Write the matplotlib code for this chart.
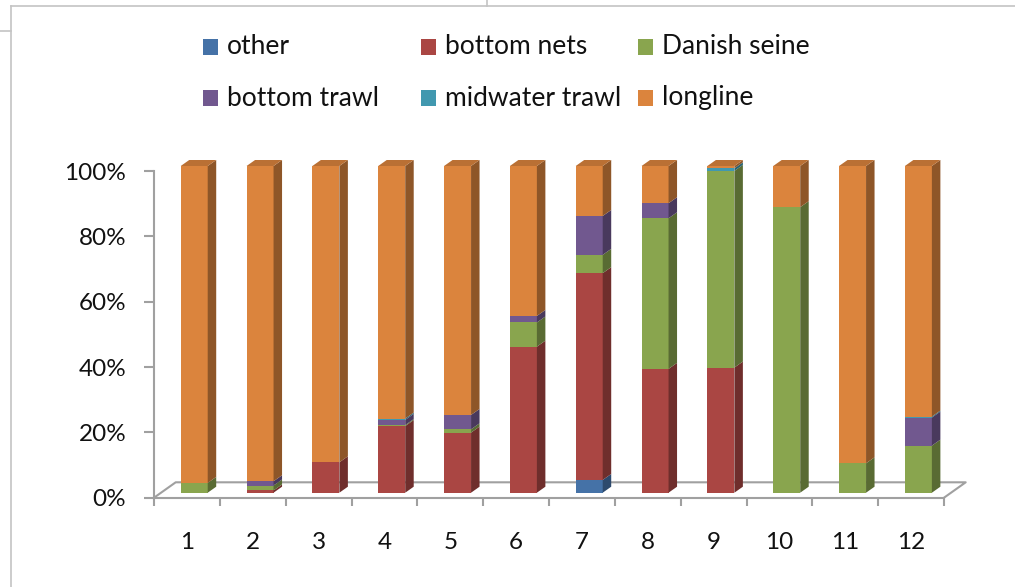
import numpy as np
import matplotlib
matplotlib.use("Agg")
import matplotlib.pyplot as plt
from matplotlib import transforms
from matplotlib.patches import Polygon, Rectangle
from matplotlib.lines import Line2D
from matplotlib.colors import to_rgb

# ---- data (share of landings by gear, %) ----
categories = ["1", "2", "3", "4", "5", "6", "7", "8", "9", "10", "11", "12"]
series_names = ["other", "bottom nets", "Danish seine",
                "bottom trawl", "midwater trawl", "longline"]
other = [0, 0, 0, 0, 0, 0, 3.9, 0, 0, 0, 0, 0]
bottom_nets = [0, 0.7, 9.3, 20.4, 18.4, 44.7, 63.3, 37.9, 38.3, 0, 0, 0]
danish_seine = [3.0, 1.5, 0, 0.3, 1.0, 7.4, 5.6, 46.1, 60.2, 87.4, 9.0, 14.4]
bottom_trawl = [0, 1.3, 0, 1.6, 4.4, 2.0, 11.9, 4.6, 0, 0, 0, 8.6]
midwater_trawl = [0, 0, 0, 0.4, 0, 0, 0, 0, 0.8, 0, 0, 0.3]
longline = [97.0, 96.5, 90.7, 77.3, 76.2, 45.9, 15.3, 11.4, 0.7, 12.6, 91.0, 76.7]
y_ticks = [0, 0.2, 0.4, 0.6, 0.8, 1.0]
y_tick_labels = ["0%", "20%", "40%", "60%", "80%", "100%"]

colors = ["#4572A7", "#AA4643", "#89A54E", "#71588F", "#4198AF", "#DB843D"]

W, H, DPI = 1015, 587, 100
FONT = "Lato"
GRID = "#A0A0A0"
TEXT = "#111111"


def shade(c, f):
    r, g, b = to_rgb(c)
    return (r * f, g * f, b * f)


def px(x, y):
    """figure fraction from pixel position measured from the top-left."""
    return x / W, (H - y) / H


fig = plt.figure(figsize=(W / DPI, H / DPI), dpi=DPI)
fig.patch.set_facecolor("white")

# plot area: front edge of the floor and the value axis
x0, x1 = 154, 944
y0, y1 = 497.7, 171
ax = fig.add_axes([x0 / W, (H - y0) / H, (x1 - x0) / W, (y0 - y1) / H])
ax.set_xlim(0.5, len(categories) + 0.5)
ax.set_ylim(0, 1)
ax.patch.set_visible(False)
for s in ("top", "right"):
    ax.spines[s].set_visible(False)
for s in ("left", "bottom"):
    ax.spines[s].set_color(GRID)
    ax.spines[s].set_linewidth(1.5)
    ax.spines[s].set_zorder(1)

xpos = np.arange(1, len(categories) + 1)
ax.set_xticks(xpos, categories)
ax.set_xticks(np.arange(0.5, len(categories) + 1), minor=True)
ax.tick_params(axis="x", which="major", length=0, pad=25,
               labelsize=17.5, labelcolor=TEXT)
ax.tick_params(axis="x", which="minor", length=6, width=1.5, color=GRID,
               direction="out")
ax.set_yticks(y_ticks, y_tick_labels)
ax.tick_params(axis="y", length=7, width=1.5, color=GRID, pad=13,
               labelsize=17.5, labelcolor=TEXT)
for lab in ax.get_xticklabels() + ax.get_yticklabels():
    lab.set_fontfamily(FONT)

# floor depth (pixels) and bar depth (pixels)
floor_dx, floor_dy = 21.7, 15.4
bar_dx, bar_dy = 8.5, 6.0
bar_shift_x, bar_shift_y = 7.3, 5.0
bar_w = 0.41

disp = transforms.IdentityTransform()
to_disp = ax.transData.transform

# floor outline (back edge and the two side edges)
fl = to_disp([[0.5, 0], [len(categories) + 0.5, 0]])
floor_pts = [fl[0], fl[0] + [floor_dx, floor_dy],
             fl[1] + [floor_dx, floor_dy], fl[1]]
floor_pts = np.array(floor_pts)
ax.add_line(Line2D(floor_pts[:, 0], floor_pts[:, 1], transform=disp,
                   color=GRID, lw=1.5, zorder=1, clip_on=False))

# 100% stacked columns
data = np.array([other, bottom_nets, danish_seine,
                 bottom_trawl, midwater_trawl, longline], dtype=float)
shares = data / data.sum(axis=0)

bar_tr = transforms.offset_copy(ax.transData, fig=fig, x=bar_shift_x,
                                y=bar_shift_y, units="dots")
bottoms = np.zeros(len(categories))
for k, (name, col) in enumerate(zip(series_names, colors)):
    vals = shares[k]
    ax.bar(xpos, vals, width=bar_w, bottom=bottoms, color=col,
           transform=bar_tr, clip_on=False, zorder=3, linewidth=0)
    for i in range(len(categories)):
        if vals[i] <= 0:
            continue
        lo, hi = bottoms[i], bottoms[i] + vals[i]
        p = bar_tr.transform([[xpos[i] + bar_w / 2, lo],
                              [xpos[i] + bar_w / 2, hi]])
        side = [p[0], p[1], p[1] + [bar_dx, bar_dy], p[0] + [bar_dx, bar_dy]]
        ax.add_patch(Polygon(side, closed=True, transform=disp,
                             facecolor=shade(col, 0.65), edgecolor="none",
                             zorder=3, clip_on=False))
    bottoms = bottoms + vals

# top caps of the columns
for i in range(len(categories)):
    top_series = max(k for k in range(len(series_names)) if shares[k, i] > 0)
    p = bar_tr.transform([[xpos[i] - bar_w / 2, bottoms[i]],
                          [xpos[i] + bar_w / 2, bottoms[i]]])
    cap = [p[0], p[1], p[1] + [bar_dx, bar_dy], p[0] + [bar_dx, bar_dy]]
    ax.add_patch(Polygon(cap, closed=True, transform=disp,
                         facecolor=shade(colors[top_series], 0.85),
                         edgecolor="none", zorder=3, clip_on=False))

# legend: two rows of three entries
leg_sq_x = [203, 421, 638]
leg_txt_x = [227, 445, 662]
leg_row_y = [47, 98]
for k, (name, col) in enumerate(zip(series_names, colors)):
    r, c = divmod(k, 3)
    sx, sy = px(leg_sq_x[c], leg_row_y[r] + 7.5)
    fig.patches.append(Rectangle((sx, sy), 15 / W, 15 / H,
                                 transform=fig.transFigure,
                                 facecolor=col, edgecolor="none"))
    tx, ty = px(leg_txt_x[c], leg_row_y[r])
    fig.text(tx, ty, name, fontsize=19, family=FONT, color=TEXT,
             ha="left", va="center")

# surrounding frame lines
frame = "#C4C4C4"
for (xa, ya), (xb, yb) in [((11, 6), (W, 6)), ((11, 6), (11, H)),
                           ((0, 31), (11, 31)), ((487, 0), (487, 6))]:
    fa, fb = px(xa, ya), px(xb, yb)
    fig.add_artist(Line2D([fa[0], fb[0]], [fa[1], fb[1]],
                          transform=fig.transFigure, color=frame, lw=1.2))

fig.savefig("out.png", dpi=DPI, facecolor="white")
